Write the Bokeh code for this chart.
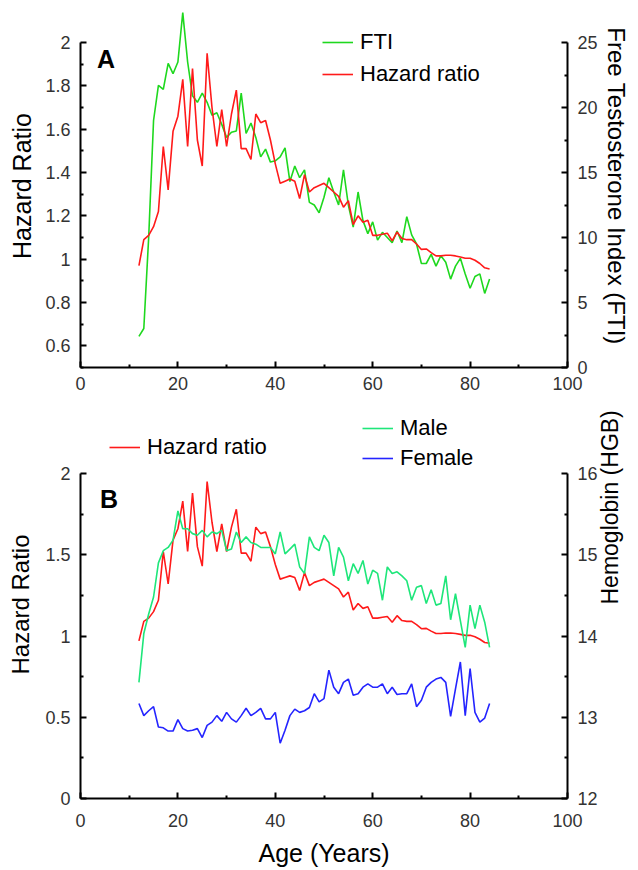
import math
from bokeh.plotting import figure
from bokeh.models import (Range1d, LinearAxis, FixedTicker, Legend, LegendItem, Label,
                          NumeralTickFormatter, Grid)
from bokeh.layouts import column
from bokeh.embed import file_html
from bokeh.resources import INLINE

# ---------------- data ----------------
ages = list(range(12, 85))

hazard_ratio = [0.97, 1.09, 1.11, 1.15, 1.22, 1.52, 1.32, 1.59, 1.66, 1.83,
                1.52, 1.88, 1.55, 1.43, 1.95, 1.70, 1.52, 1.69, 1.52, 1.67,
                1.78, 1.51, 1.51, 1.46, 1.67, 1.63, 1.64, 1.55, 1.44, 1.35,
                1.36, 1.37, 1.36, 1.28, 1.39, 1.31, 1.33, 1.34, 1.35, 1.33,
                1.31, 1.29, 1.24, 1.27, 1.16, 1.20, 1.17, 1.18, 1.11, 1.11,
                1.115, 1.12, 1.085, 1.125, 1.095, 1.09, 1.09, 1.07, 1.045, 1.047,
                1.03, 1.015, 1.015, 1.018, 1.018, 1.015, 1.01, 1.004, 1.004, 0.995,
                0.98, 0.96, 0.955]

fti = [2.4, 3.0, 10.0, 19.0, 21.7, 21.4, 23.4, 22.6, 23.5, 27.3,
       23.5, 20.9, 20.4, 21.1, 20.4, 19.4, 19.6, 18.7, 17.7, 18.1,
       18.2, 21.1, 18.0, 18.8, 17.7, 16.2, 16.8, 15.8, 15.9, 16.2,
       16.9, 14.3, 15.5, 14.6, 15.2, 12.7, 12.5, 11.9, 13.1, 14.6,
       13.5, 12.5, 15.2, 12.5, 10.8, 13.5, 11.3, 10.3, 11.2, 9.8,
       10.4, 10.0, 9.6, 10.5, 9.6, 11.6, 10.2, 9.5, 8.0, 8.0,
       8.7, 7.8, 8.6, 8.1, 6.8, 7.8, 8.4, 7.2, 6.1, 7.0,
       7.2, 5.7, 6.8]

hgb_male = [13.43, 14.03, 14.27, 14.48, 14.90, 15.05, 15.09, 15.18, 15.54, 15.32,
            15.32, 15.26, 15.24, 15.30, 15.22, 15.28, 15.26, 15.30, 15.05, 15.07,
            15.28, 15.15, 15.22, 15.15, 15.13, 15.09, 15.09, 15.09, 15.01, 15.28,
            15.01, 15.07, 15.13, 14.85, 14.77, 15.22, 15.09, 15.05, 15.24, 15.15,
            14.74, 15.09, 14.97, 14.68, 14.89, 14.77, 14.93, 14.64, 14.81, 14.77,
            14.44, 14.85, 14.77, 14.79, 14.74, 14.68, 14.44, 14.60, 14.62, 14.40,
            14.57, 14.38, 14.40, 14.74, 14.20, 14.52, 14.19, 13.86, 14.38, 14.09,
            14.38, 14.17, 13.86]

hgb_female = [13.17, 13.02, 13.08, 13.13, 12.88, 12.87, 12.83, 12.83, 12.97, 12.86,
              12.83, 12.84, 12.86, 12.75, 12.90, 12.94, 13.02, 12.95, 13.06, 12.98,
              12.94, 13.02, 13.11, 13.02, 13.06, 13.11, 12.98, 12.98, 13.06, 12.68,
              12.84, 13.02, 13.10, 13.06, 13.08, 13.12, 13.29, 13.19, 13.23, 13.58,
              13.37, 13.29, 13.43, 13.47, 13.27, 13.29, 13.37, 13.41, 13.37, 13.37,
              13.41, 13.29, 13.37, 13.28, 13.29, 13.29, 13.41, 13.13, 13.21, 13.37,
              13.43, 13.47, 13.49, 13.43, 13.01, 13.35, 13.68, 13.02, 13.60, 13.06,
              12.94, 12.99, 13.17]

age_ticks = [0, 20, 40, 60, 80, 100]
age_minor = [10, 30, 50, 70, 90]
hr_ticks_a = [0.6, 0.8, 1, 1.2, 1.4, 1.6, 1.8, 2]
hr_minor_a = [0.5, 0.7, 0.9, 1.1, 1.3, 1.5, 1.7, 1.9]
fti_ticks = [0, 5, 10, 15, 20, 25]
fti_minor = [2.5, 7.5, 12.5, 17.5, 22.5]
hr_ticks_b = [0, 0.5, 1, 1.5, 2]
hr_minor_b = [0.25, 0.75, 1.25, 1.75]
hgb_ticks = [12, 13, 14, 15, 16]
hgb_minor = [12.5, 13.5, 14.5, 15.5]

FONT = "Liberation Sans"
RED = "#ff1a1a"
GREEN_A = "#1ed81e"
GREEN_B = "#1ee67a"
BLUE = "#2424ff"

W = 638
BL, BR = 80, 68
AXIS_H = 325          # pixel height of the bounded axes


def style_axis(ax, major, minor, standoff, label, label_fs, label_standoff, bounds):
    ax.ticker = FixedTicker(ticks=major, minor_ticks=minor)
    ax.formatter = NumeralTickFormatter(format="0.[0]")
    ax.bounds = bounds
    ax.axis_line_color = "black"
    ax.axis_line_width = 2
    ax.major_tick_line_color = "black"
    ax.major_tick_line_width = 2
    ax.minor_tick_line_color = "black"
    ax.minor_tick_line_width = 2
    ax.major_tick_in = 6
    ax.major_tick_out = 0
    ax.minor_tick_in = 3
    ax.minor_tick_out = 0
    ax.major_label_text_font = FONT
    ax.major_label_text_font_size = "18px"
    ax.major_label_text_color = "#333333"
    ax.major_label_standoff = standoff
    if label:
        ax.axis_label = label
        ax.axis_label_text_font = FONT
        ax.axis_label_text_font_size = label_fs
        ax.axis_label_text_font_style = "normal"
        ax.axis_label_text_color = "black"
        ax.axis_label_standoff = label_standoff


def legend(items, loc, spacing):
    return Legend(items=items, location=loc, orientation="vertical",
                  label_text_font=FONT, label_text_font_size="22px",
                  label_text_color="black", glyph_width=31, glyph_height=24,
                  label_height=24, label_standoff=7, spacing=spacing,
                  padding=0, margin=0, border_line_color=None,
                  background_fill_alpha=0)


def hide_grids(p):
    for g in p.select(type=Grid):
        g.visible = False


# ---------------- panel A ----------------
HA = 410
top_a, bot_a = 4, 43
fh_a = HA - top_a - bot_a
pA = figure(width=W, height=HA, output_backend="svg", toolbar_location=None,
            x_range=Range1d(0, 100),
            y_range=Range1d(0.5, 0.5 + 1.5 * fh_a / AXIS_H),
            x_axis_location=None, y_axis_location=None,
            min_border_left=BL, min_border_right=BR,
            min_border_top=top_a, min_border_bottom=bot_a)
pA.extra_y_ranges = {"fti": Range1d(0, 25 * fh_a / AXIS_H)}
pA.outline_line_color = None
pA.background_fill_color = "white"
pA.border_fill_color = "white"
hide_grids(pA)

xa = LinearAxis()
style_axis(xa, age_ticks, age_minor, 9, None, None, 0, (0, 100))
pA.add_layout(xa, "below")
ya = LinearAxis()
style_axis(ya, hr_ticks_a, hr_minor_a, 10, "Hazard Ratio", "25px", 6, (0.5, 2))
pA.add_layout(ya, "left")
ra = LinearAxis(y_range_name="fti")
style_axis(ra, fti_ticks, fti_minor, 10, "Free Testosterone Index (FTI)", "24px", 2, (0, 25))
pA.add_layout(ra, "right")

g_fti = pA.line(ages, fti, y_range_name="fti", line_color=GREEN_A, line_width=1.6)
r_hr_a = pA.line(ages, hazard_ratio, line_color=RED, line_width=1.6)

legA = legend([LegendItem(label="FTI", renderers=[g_fti]),
               LegendItem(label="Hazard ratio", renderers=[r_hr_a])], (242, 280), 6)
pA.add_layout(legA)
pA.add_layout(Label(x=3.4, y=1.926, text="A", text_font=FONT, text_font_size="25px",
                    text_font_style="bold", text_baseline="middle", text_color="black"))

# ---------------- panel B ----------------
HB = 460
top_b, bot_b = 0, 72
fh_b = HB - top_b - bot_b
pB = figure(width=W, height=HB, output_backend="svg", toolbar_location=None,
            x_range=Range1d(0, 100), y_range=Range1d(0, 2 * fh_b / AXIS_H),
            x_axis_location=None, y_axis_location=None,
            min_border_left=BL, min_border_right=BR,
            min_border_top=top_b, min_border_bottom=bot_b)
pB.extra_y_ranges = {"hgb": Range1d(12, 12 + 4 * fh_b / AXIS_H)}
pB.outline_line_color = None
pB.background_fill_color = "white"
pB.border_fill_color = "white"
hide_grids(pB)

xb = LinearAxis()
style_axis(xb, age_ticks, age_minor, 15, "Age (Years)", "25px", 9, (0, 100))
pB.add_layout(xb, "below")
yb = LinearAxis()
style_axis(yb, hr_ticks_b, hr_minor_b, 10, "Hazard Ratio", "24px", 8, (0, 2))
pB.add_layout(yb, "left")
rb = LinearAxis(y_range_name="hgb")
style_axis(rb, hgb_ticks, hgb_minor, 10, "Hemoglobin (HGB)", "23px", 9, (12, 16))
rb.axis_label_orientation = math.pi / 2
pB.add_layout(rb, "right")

r_hr_b = pB.line(ages, hazard_ratio, line_color=RED, line_width=1.6)
g_male = pB.line(ages, hgb_male, y_range_name="hgb", line_color=GREEN_B, line_width=1.6)
b_fem = pB.line(ages, hgb_female, y_range_name="hgb", line_color=BLUE, line_width=1.6)

pB.add_layout(legend([LegendItem(label="Hazard ratio", renderers=[r_hr_b])], (29, 338), 5))
pB.add_layout(legend([LegendItem(label="Male", renderers=[g_male]),
                      LegendItem(label="Female", renderers=[b_fem])], (282, 327), 4))
pB.add_layout(Label(x=4.0, y=1.846, text="B", text_font=FONT, text_font_size="25px",
                    text_font_style="bold", text_baseline="middle", text_color="black"))

layout = column(pA, pB, spacing=0)
open("out.html", "w").write(file_html(layout, INLINE))
